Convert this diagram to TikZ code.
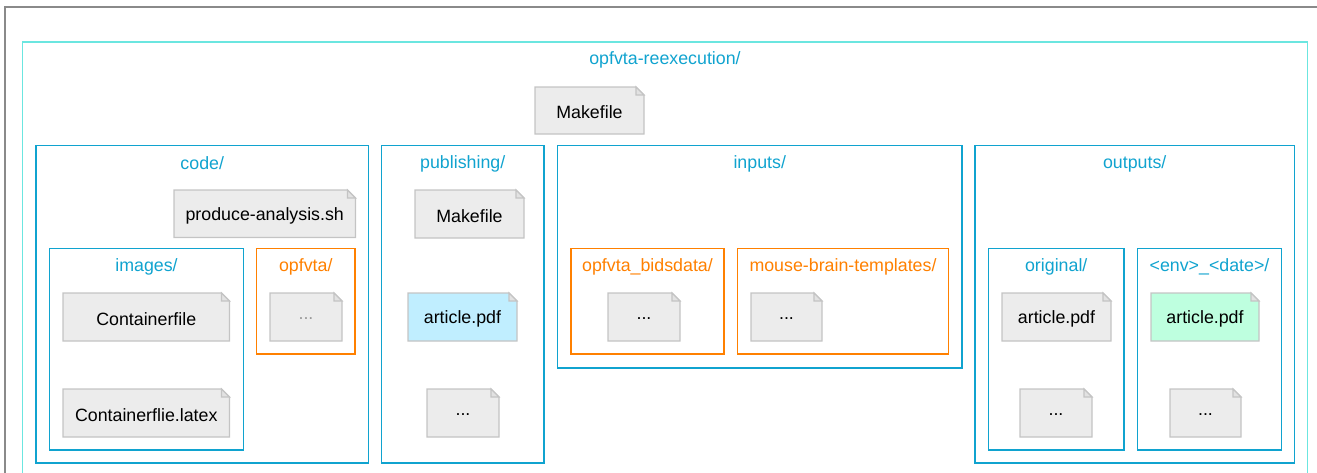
\documentclass[tikz,border=0pt]{standalone}
\usepackage{fontspec}
\setmainfont{Liberation Sans}
\usetikzlibrary{backgrounds}
\definecolor{dircyan}{HTML}{10A3CF}
\definecolor{dirorange}{HTML}{FF8000}
\definecolor{rootcyan}{HTML}{6BE6E0}
\definecolor{framegray}{HTML}{8A8A8A}
\definecolor{filefill}{HTML}{ECECEC}
\definecolor{fileline}{HTML}{C4C4C4}
\definecolor{foldfill}{HTML}{E2E2E2}
\definecolor{pdfblue}{HTML}{C0EEFF}
\definecolor{pdfgreen}{HTML}{BEFFDF}
\tikzset{
  every node/.style={font=\fontsize{17.8}{20}\selectfont, inner sep=0pt, outer sep=0pt},
  dirbox/.style={draw=dircyan, line width=1.3pt, rectangle},
  subbox/.style={draw=dirorange, line width=1.3pt, rectangle},
  rootbox/.style={draw=rootcyan, line width=1.6pt, rectangle},
  dirlabel/.style={text=dircyan},
  sublabel/.style={text=dirorange},
  filetext/.style={rectangle, text=black},
  fileedge/.style={draw=fileline, line width=1.2pt, line join=miter},
}
% container box given by its corners, with its title near the top edge
\newcommand\mkbox[8]{%
  \node[#2, minimum width={#5-#3}, minimum height={#6-#4}] (#1) at ({(#3+#5)/2},{(#4+#6)/2}) {};
  \node[#7] (#1-title) at ({(#3+#5)/2},{#4+18}) {#8};}
% file sheet with a folded top-right corner
\newcommand\mkfile[8]{%
  \node[filetext, minimum width={#4-#2}, minimum height={#5-#3}, #8] (#1) at ({(#2+#4)/2},{(#3+#5)/2+2}) {#7};
  \begin{scope}[on background layer]
    \filldraw[fileedge, fill=#6] ({#2},{#3}) -- ({#4-8},{#3}) -- ({#4},{#3+8}) -- ({#4},{#5}) -- ({#2},{#5}) -- cycle;
    \filldraw[fileedge, fill=foldfill] ({#4-8},{#3}) -- ({#4-8},{#3+8}) -- ({#4},{#3+8}) -- cycle;
  \end{scope}}
\begin{document}
\begin{tikzpicture}[x=1pt,y=-1pt]
\useasboundingbox (0,0) rectangle (1317,472);
\begin{scope}
\clip (0,0) rectangle (1317,472);
% outer frame
\draw[framegray, line width=1.8pt] (5,490) -- (5,7) -- (1330,7);
% project root
\mkbox{root}{rootbox}{22.5}{42}{1307.5}{500}{dirlabel}{opfvta-reexecution/}
\mkfile{rootmake}{535}{87}{644}{134}{filefill}{Makefile}{}

% code/
\mkbox{code}{dirbox}{36}{145.5}{368.5}{463}{dirlabel}{code/}
\mkfile{produce}{174}{190}{355.5}{237.5}{filefill}{produce-analysis.sh}{}
\mkbox{images}{dirbox}{49.5}{248.5}{243.5}{450}{dirlabel}{images/}
\mkfile{containerfile}{63}{293}{229.5}{341}{filefill}{Containerfile}{}
\mkfile{containerlatex}{63}{389}{229.5}{437}{filefill}{Containerflie.latex}{}
\mkbox{opfvta}{subbox}{256.5}{248.5}{355}{354}{sublabel}{opfvta/}
\mkfile{opfvtamore}{270}{293}{342}{341}{filefill}{...}{text=gray!80}

% publishing/
\mkbox{publishing}{dirbox}{381.5}{145.5}{544}{463}{dirlabel}{publishing/}
\mkfile{pubmake}{415}{190}{524}{238}{filefill}{Makefile}{}
\mkfile{pubpdf}{408}{293}{517}{341}{pdfblue}{article.pdf}{}
\mkfile{pubmore}{427}{389}{499}{437}{filefill}{...}{}

% inputs/
\mkbox{inputs}{dirbox}{557.5}{145.5}{962}{368}{dirlabel}{inputs/}
\mkbox{bidsdata}{subbox}{571}{248.5}{724}{354}{sublabel}{opfvta\_bidsdata/}
\mkfile{bidsmore}{608}{293}{680}{341}{filefill}{...}{}
\mkbox{templates}{subbox}{737.5}{248.5}{948.5}{354}{sublabel}{mouse-brain-templates/}
\mkfile{templatesmore}{751}{293}{822}{341}{filefill}{...}{}

% outputs/
\mkbox{outputs}{dirbox}{975}{145.5}{1294.5}{463}{dirlabel}{outputs/}
\mkbox{original}{dirbox}{988.5}{248.5}{1124}{450}{dirlabel}{original/}
\mkfile{origpdf}{1002}{293}{1111}{341}{filefill}{article.pdf}{}
\mkfile{origmore}{1020}{389}{1092}{437}{filefill}{...}{}
\mkbox{envdate}{dirbox}{1137.5}{248.5}{1281.5}{450}{dirlabel}{<env>\_<date>/}
\mkfile{envpdf}{1151}{293}{1259}{341}{pdfgreen}{article.pdf}{}
\mkfile{envmore}{1170}{389}{1241}{437}{filefill}{...}{}
\end{scope}
\end{tikzpicture}
\end{document}
